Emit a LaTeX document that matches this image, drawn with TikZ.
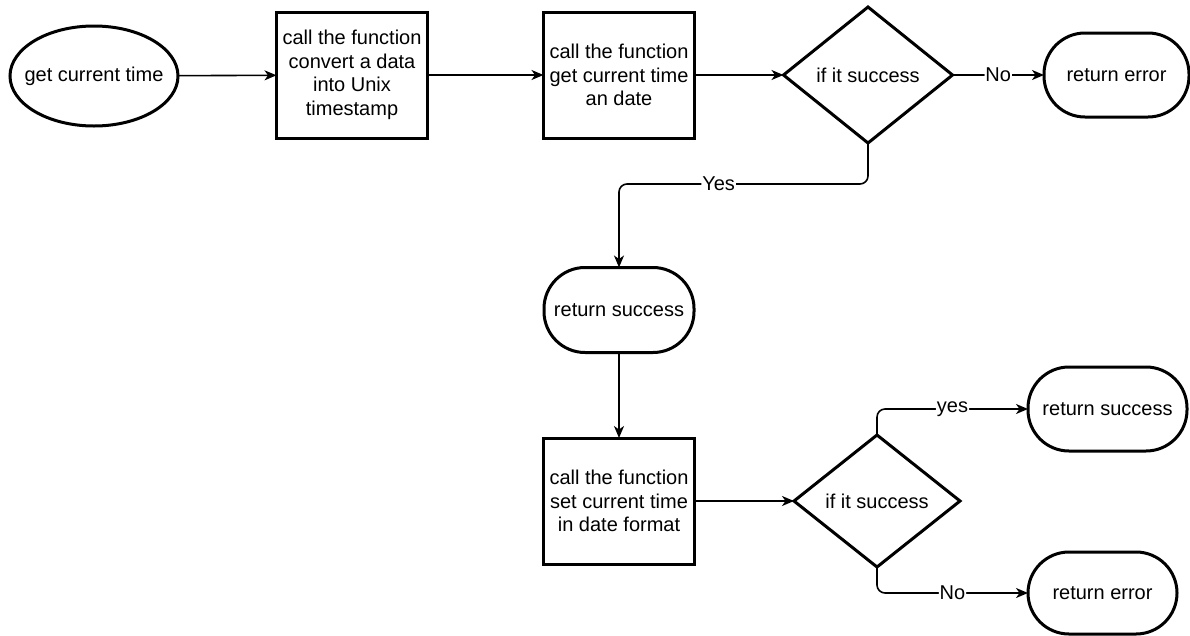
\documentclass[tikz,border=0pt]{standalone}
\usepackage{fontspec}
\setmainfont{Liberation Sans}
\usetikzlibrary{shapes.geometric,arrows.meta}
\begin{document}
\begin{tikzpicture}[x=1pt,y=-1pt,
  every node/.style={font=\fontsize{20}{23.6}\selectfont, align=center, inner sep=0pt, outer sep=0pt},
  shp/.style={draw, line width=3pt},
  proc/.style={shp, rectangle, minimum width=151, minimum height=126},
  oval/.style={shp, ellipse, inner xsep=-14pt, minimum width=168, minimum height=100},
  term/.style={shp, rectangle, rounded corners=41pt},
  dec/.style={shp, diamond, minimum width=169, minimum height=136},
  conn/.style={line width=1.6pt, -{Stealth[length=12pt,width=10pt,inset=3.5pt]}, rounded corners=8pt},
  lbl/.style={fill=white, inner sep=1pt}
]
\useasboundingbox (0,0) rectangle (1190,635);

\node[oval] (start) at (94,76) {get current time};
\node[proc] (b1) at (352,75) {call the function\\convert a data\\into Unix\\timestamp};
\node[proc] (b2) at (619,75) {call the function\\get current time\\an date};
\node[dec] (d1) at (868,75) {if it success};
\node[term, minimum width=145, minimum height=84] (re1) at (1116.5,75) {return error};
\node[term, minimum width=150, minimum height=85] (rs1) at (619,310) {return success};
\node[proc] (b3) at (619,501) {call the function\\set current time\\in date format};
\node[dec, minimum width=166, minimum height=132] (d2) at (877,501) {if it success};
\node[term, minimum width=159, minimum height=84] (rs2) at (1107.5,409) {return success};
\node[term, minimum width=149, minimum height=82] (re2) at (1102.5,593) {return error};

\coordinate (yc) at (0,184);

\draw[conn] (start) -- (b1);
\draw[conn] (b1) -- (b2);
\draw[conn] (b2) -- (d1);
\draw[conn] (d1.east) -- node[lbl]{No} (re1.west);
\draw[conn] (d1.south) -- (d1.south |- yc) -- node[lbl,pos=0.6]{Yes} (rs1.north |- yc) -- (rs1.north);
\draw[conn] (rs1.south) -- (b3.north);
\draw[conn] (b3.east) -- (d2.west);
\draw[conn] (d2.north) |- node[lbl,pos=0.75]{yes} (rs2.west);
\draw[conn] (d2.south) |- node[lbl,pos=0.75]{No} (re2.west);
\end{tikzpicture}
\end{document}
